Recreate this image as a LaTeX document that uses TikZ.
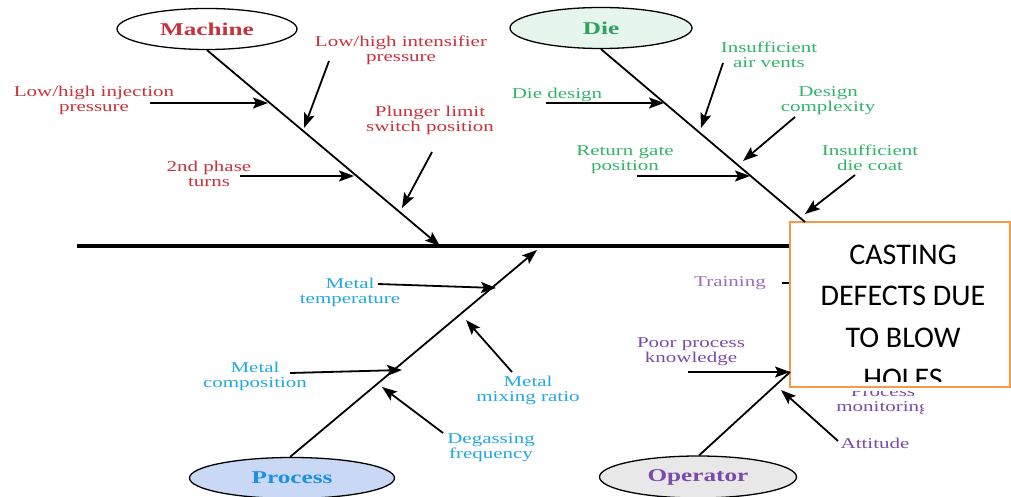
\documentclass[tikz,border=0pt]{standalone}
\usepackage{fontspec}
\newfontfamily\fishfont[FakeStretch=1.4]{Liberation Serif}
\newfontfamily\headfont{Carlito}
\usetikzlibrary{arrows.meta, shapes.geometric}
\usepackage{xcolor}
\definecolor{machinered}{HTML}{C8323C}
\definecolor{diegreen}{HTML}{33B36B}
\definecolor{processblue}{HTML}{22A8E0}
\definecolor{processfill}{HTML}{C9D9F5}
\definecolor{operatorpurple}{HTML}{7B4BA8}
\definecolor{headorange}{HTML}{F59A4A}

\begin{document}
\begin{tikzpicture}[
            x = 1pt, y = -1pt,
            line width = 1.8pt,
            font = \fishfont\fontsize{15}{15}\selectfont
        ]

        \tikzstyle{cause}=[
            draw,
            ellipse,
            line width = 1.3pt,
            minimum width = 180pt,
            minimum height = 41pt,
            font = \fishfont\bfseries\fontsize{18}{18}\selectfont
        ]
        \tikzstyle{reason}=[align = center, inner sep = 0pt]
        \tikzstyle{arr}=[-{Stealth[length=15pt, width=11pt, inset=3pt]}]
        \tikzstyle{headtext}=[anchor = base, inner sep = 0pt,
            font = \headfont\fontsize{30}{30}\selectfont]

        \useasboundingbox (0,0) rectangle (1011,497);

        % the four main causes
        \node[cause, fill = white, text = machinered] (machine) at (207,29) {Machine};
        \node[cause, fill = diegreen!12, text = diegreen!90!black, minimum width = 182pt] (die) at (601,28) {Die};
        \node[cause, fill = processfill, text = processblue!85!blue, minimum width = 205pt] (process) at (292,478) {Process};
        \node[cause, fill = black!9, text = operatorpurple, minimum width = 197pt, minimum height = 42pt] (operator) at (698,477) {Operator};

        % machine
        \node[reason, text = machinered] (inj) at (94,100) {Low/high injection\\pressure};
        \node[reason, text = machinered] (intens) at (401,50) {Low/high intensifier\\pressure};
        \node[reason, text = machinered] (phase) at (209,174) {2nd phase\\turns};
        \node[reason, text = machinered] (plunger) at (430,120) {Plunger limit\\switch position};

        % die
        \node[reason, text = diegreen] (design) at (557,95) {Die design};
        \node[reason, text = diegreen] (vents) at (769,55) {Insufficient\\air vents};
        \node[reason, text = diegreen] (complex) at (828,101) {Design\\complexity};
        \node[reason, text = diegreen] (gate) at (625,160) {Return gate\\position};
        \node[reason, text = diegreen] (coat) at (870,158) {Insufficient\\die coat};

        % process
        \node[reason, text = processblue] (temp) at (350,292) {Metal\\temperature};
        \node[reason, text = processblue] (compo) at (255,376) {Metal\\composition};
        \node[reason, text = processblue] (mixing) at (528,390) {Metal\\mixing ratio};
        \node[reason, text = processblue] (degas) at (491,448) {Degassing\\frequency};

        % operator
        \node[reason, text = operatorpurple!80] (training) at (730,283) {Training};
        \node[reason, text = operatorpurple] (knowledge) at (691,352) {Poor process\\knowledge};
        \node[reason, text = operatorpurple] (attitude) at (875,443) {Attitude};
        \begin{scope}
            \clip (780,391) rectangle (923,420);
            \node[reason, text = operatorpurple] (monitor) at (883,401) {Process\\monitoring};
        \end{scope}

        % effect
        \node[draw = headorange, fill = white, line width = 2pt,
            minimum width = 220pt, minimum height = 165pt] (head) at (900,304.5) {};
        \begin{scope}
            \clip (791,223) rectangle (1010,381);
            \foreach \txt [count=\i] in {CASTING, DEFECTS DUE, TO BLOW, HOLES}
                \node[headtext] (head\i) at (903,{264+41.5*(\i-1)}) {\txt};
        \end{scope}

        % spine and bones
        \coordinate (tail) at (77,246);
        \draw[line width = 3.2pt] (tail) -- (tail -| head.west);
        \coordinate (m0) at (440,246);
        \draw[arr] (machine.south) -- (m0);
        \coordinate (d0) at (805,222);
        \draw (die.south) -- (d0);
        \coordinate (p0) at (537,250);
        \draw[arr] (process.95) -- (p0);
        \coordinate (o0) at (790,372);
        \draw (operator.87) -- (o0);

        % arrows to the bones
        \coordinate (inj-s) at (150,103);   \coordinate (inj-e) at (268,103);
        \coordinate (intens-s) at (329,61); \coordinate (intens-e) at (304,128);
        \coordinate (phase-s) at (240,176); \coordinate (phase-e) at (354,176);
        \coordinate (plunger-s) at (432,152); \coordinate (plunger-e) at (402,208);
        \draw[arr] (inj-s) -- (inj-e);
        \draw[arr] (intens-s) -- (intens-e);
        \draw[arr] (phase-s) -- (phase-e);
        \draw[arr] (plunger-s) -- (plunger-e);

        \coordinate (design-s) at (546,103);  \coordinate (design-e) at (664,103);
        \coordinate (vents-s) at (723,63);    \coordinate (vents-e) at (701,128);
        \coordinate (complex-s) at (795,117); \coordinate (complex-e) at (743,161);
        \coordinate (gate-s) at (637,176);    \coordinate (gate-e) at (750,176);
        \coordinate (coat-s) at (855,175);    \coordinate (coat-e) at (805,214);
        \draw[arr] (design-s) -- (design-e);
        \draw[arr] (vents-s) -- (vents-e);
        \draw[arr] (complex-s) -- (complex-e);
        \draw[arr] (gate-s) -- (gate-e);
        \draw[arr] (coat-s) -- (coat-e);

        \coordinate (temp-s) at (378,284);   \coordinate (temp-e) at (496,288);
        \coordinate (compo-s) at (290,373);  \coordinate (compo-e) at (402,370);
        \coordinate (mixing-s) at (512,372); \coordinate (mixing-e) at (466,320);
        \coordinate (degas-s) at (443,433);  \coordinate (degas-e) at (382,387);
        \draw[arr] (temp-s) -- (temp-e);
        \draw[arr] (compo-s) -- (compo-e);
        \draw[arr] (mixing-s) -- (mixing-e);
        \draw[arr] (degas-s) -- (degas-e);

        \coordinate (training-s) at (782,283);
        \coordinate (knowledge-s) at (688,372);
        \coordinate (attitude-s) at (838,441); \coordinate (attitude-e) at (781,390);
        \draw (training-s) -- (training-s -| head.west);
        \draw[arr] (knowledge-s) -- (o0);
        \draw[arr] (attitude-s) -- (attitude-e);
    \end{tikzpicture}
\end{document}
